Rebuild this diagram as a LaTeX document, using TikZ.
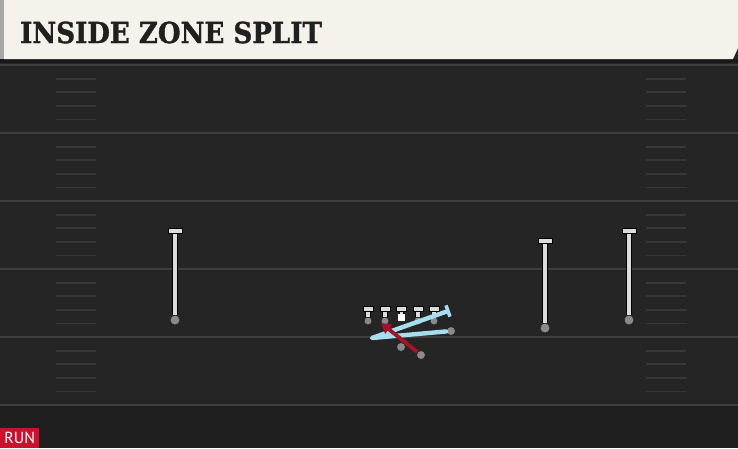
\documentclass[tikz,border=0pt]{standalone}
\usepackage{fontspec}
\newfontfamily\titlefont{DejaVu Serif Condensed}[BoldFeatures={FakeBold=1.2}]
\newfontfamily\tagfont{PT Sans}
\usetikzlibrary{positioning, arrows.meta}

\definecolor{cream}{RGB}{245,242,236}
\definecolor{ink}{RGB}{32,32,32}
\definecolor{field}{RGB}{37,37,37}
\definecolor{fieldlow}{RGB}{31,31,31}
\definecolor{yardline}{RGB}{62,62,62}
\definecolor{hashline}{RGB}{56,56,56}
\definecolor{stemgray}{RGB}{220,220,220}
\definecolor{dotgray}{RGB}{138,138,138}
\definecolor{routeblue}{RGB}{166,222,240}
\definecolor{routered}{RGB}{163,18,40}
\definecolor{runred}{RGB}{204,16,46}

\begin{document}
\begin{tikzpicture}
[
    x=1pt, y=-1pt, auto,
    % All positions are pixels of the 738 x 448 frame, y runs downwards
    % Receivers are X, Z, Y; line is OL-0 ... OL-4 with bars OL-i-t
]

%=================================== Start ===================================
\tikzstyle{player}  = [circle, fill=dotgray, draw=black!85, line width=0.8pt, minimum size=10pt, inner sep=0pt]
\tikzstyle{tbar}    = [rectangle, fill=stemgray, draw=black, line width=0.8pt, minimum width=14pt, minimum height=5.5pt, inner sep=0pt]
\tikzstyle{olbar}   = [tbar, minimum width=10pt, minimum height=4.5pt]
\tikzstyle{snap}    = [rectangle, fill=white, minimum size=7.5pt, inner sep=0pt]
\tikzstyle{stem}    = [draw=stemgray, line width=4.8pt, preaction={draw=black, line width=6.4pt}]
\tikzstyle{olstem}  = [draw=stemgray, line width=3.6pt, preaction={draw=black, line width=5.2pt}]
\tikzstyle{hash}    = [draw=hashline, line width=1.8pt]
\tikzstyle{yard}    = [draw=yardline, line width=2.2pt]
\tikzstyle{blueway} = [draw=routeblue, line width=4.4pt, line join=round, line cap=round]
\tikzstyle{blueend} = [rectangle, fill=routeblue, minimum width=3.5pt, minimum height=12pt, inner sep=0pt]
\tikzstyle{redway}  = [draw=routered, line width=3.8pt, -{Triangle[length=10pt, width=11pt]}]

\useasboundingbox (0,0) rectangle (738,448);

% Field and header
\fill[field] (0,0) rectangle (738,448);
\fill[fieldlow] (0,406) rectangle (738,448);
\fill[black!90] (0,59) rectangle (738,63);
\fill[cream] (4,0) -- (738,0) -- (738,48) -- (733,59) -- (4,59) -- cycle;
\fill[black!35] (0,0) rectangle (4,59);
\node[anchor=west, inner sep=0pt, text=ink,
      font=\titlefont\bfseries\fontsize{29}{30}\selectfont]
      (title) at (20,32.5) {INSIDE ZONE SPLIT};

% Yard lines and hash marks
\foreach \k in {0,...,5}
    \draw[yard] (0,{65+68*\k}) -- (738,{65+68*\k});
\foreach \k in {0,...,4}
    \foreach \j in {1,...,4} {
        \draw[hash] (56,{65+68*\k+13.6*\j}) -- (96,{65+68*\k+13.6*\j});
        \draw[hash] (646,{65+68*\k+13.6*\j}) -- (686,{65+68*\k+13.6*\j});
    }

% Receivers with their stems
\foreach \x / \ytop / \ybot / \name in {175/231/320/X, 545/241/328/Z, 629/231/320/Y} {
    \node[player] (\name) at (\x,\ybot) {};
    \node[tbar] (\name-t) at (\x,\ytop) {};
    \draw[stem] (\name) -- (\name-t);
}

% Offensive line, center gets the square
\foreach \x / \c in {368/0, 385/1, 418/3, 434/4} {
    \node[player, minimum size=8pt] (OL-\c) at (\x,321) {};
    \node[olbar] (OL-\c-t) at (\x,309) {};
    \draw[olstem] (OL-\c) -- (OL-\c-t);
}
\node[snap] (OL-2) at (401.5,317.5) {};
\node[olbar] (OL-2-t) at (401.5,309) {};
\draw[olstem] (OL-2) -- (OL-2-t);

% Backs
\node[player, minimum size=9pt] (QB) at (401,347) {};
\node[player, minimum size=9pt] (RB) at (421,355) {};
\node[player, minimum size=9pt] (H) at (451,331) {};

% Routes
\coordinate (H-turn) at (372,338);
\node[blueend, rotate=19.6] (H-end) at (448,311) {};
\draw[blueway] (H) -- (H-turn) -- (H-end);
\coordinate (RB-end) at (381,323);
\draw[redway] (RB) -- (RB-end);

% Play type
\node[anchor=south west, fill=runred, text=white, inner sep=0pt,
      minimum width=39pt, minimum height=20pt,
      font=\tagfont\fontsize{16}{16}\selectfont] (tag) at (0,448) {RUN};
%==================================== END ====================================

\end{tikzpicture}
\end{document}
